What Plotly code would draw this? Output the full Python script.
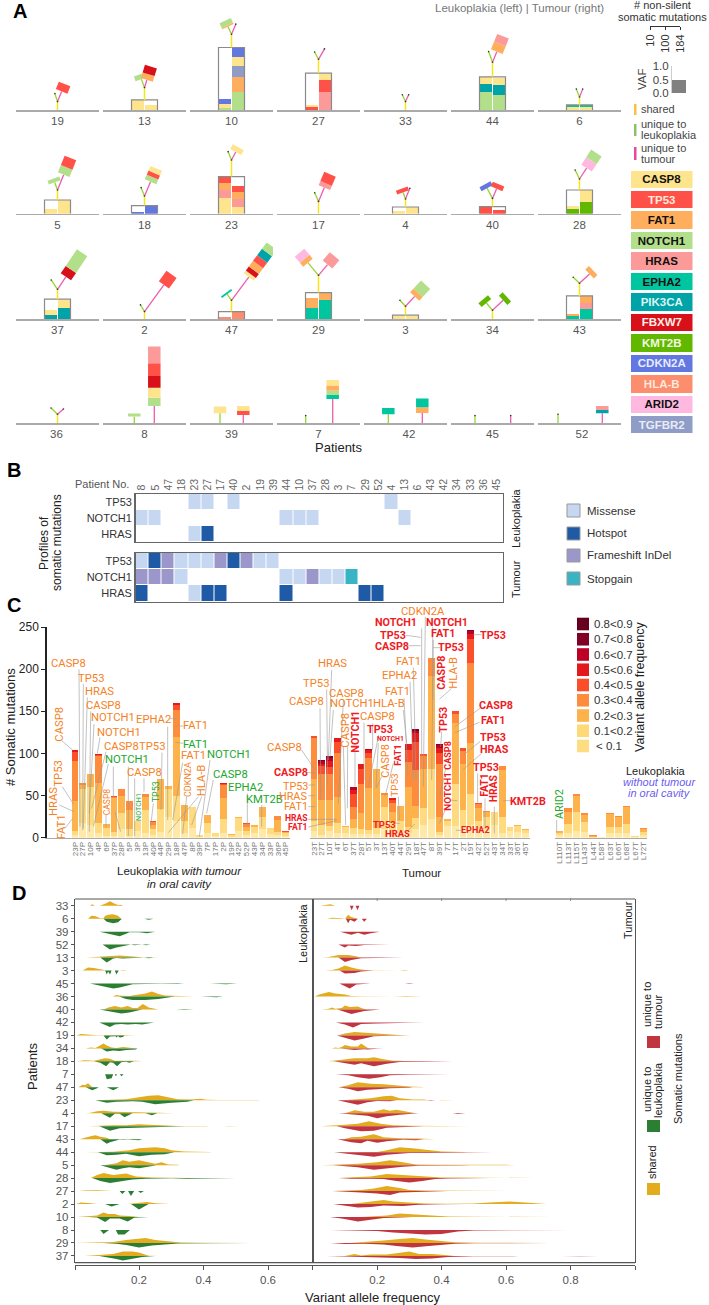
import math
import plotly.graph_objects as go

W, H = 709, 1305
FONT = "Liberation Sans"
NARROW = "Roboto"

GENES = ["CASP8", "TP53", "FAT1", "NOTCH1", "HRAS", "EPHA2", "PIK3CA", "FBXW7", "KMT2B", "CDKN2A", "HLA-B", "ARID2", "TGFBR2"]
GENE_COLORS = ["#FEE48C", "#FF5147", "#FEAE5C", "#B2DF8A", "#FB9A99", "#00C6A0", "#00A3A8", "#D7101A", "#62B800", "#6277E0", "#FC8D6D", "#FFB9E0", "#8F9CC6"]
GENE_TEXT = ["#111", "#FFE8DC", "#111", "#111", "#111", "#111", "#DDF5F5", "#FFF0E8", "#F2FAE0", "#E8ECFF", "#FFE8DC", "#111", "#E8ECF8"]
GC = dict(zip(GENES, GENE_COLORS))

# panel A: patient grid
GRID = [[19, 13, 10, 27, 33, 44, 6], [5, 18, 23, 17, 4, 40, 28], [37, 2, 47, 29, 3, 34, 43], [36, 8, 39, 7, 42, 45, 52]]
# box_L / box_R: segment heights; trunk; l / r: branch (length, angle); ls / rs: driver blocks on the branches; lx / rx: stem offsets
TREES = {
 19: dict(trunk=8.7, l=(8.4, -18), r=(11, 22), rs=[("TP53", 8)]),
 13: dict(box_L=[("CASP8", 10)], box_R=[("CASP8", 5)], trunk=22.7, l=(9, -20), r=(8, 17), ls=[("NOTCH1", 5)], rs=[("FAT1", 6), ("FBXW7", 8)]),
 10: dict(box_L=[("NOTCH1", 2.7), ("CASP8", 4), ("CDKN2A", 5)], box_R=[("NOTCH1", 18.7), ("FAT1", 15), ("TGFBR2", 10.7), ("CASP8", 8.7), ("CDKN2A", 9.3)], trunk=76, l=(8.5, -25), r=(11, 23), ls=[("FAT1", 1.5), ("NOTCH1", 5)]),
 27: dict(box_L=[("TP53", 3.3), ("CASP8", 1.7)], box_R=[("HRAS", 18.3), ("TP53", 12), ("CASP8", 6.5)], trunk=51, l=(8.3, -28), r=(12, 30)),
 33: dict(trunk=8.7, l=(7.5, -25), r=(7.5, 25)),
 44: dict(box_L=[("NOTCH1", 18.7), ("PIK3CA", 7.7), ("CASP8", 6.7)], box_R=[("NOTCH1", 15.3), ("PIK3CA", 9.7), ("CASP8", 7.7)], trunk=48, l=(11.4, -20), r=(11.5, 22), rs=[("FAT1", 8.3), ("HRAS", 8.3)]),
 6: dict(box_L=[("CASP8", 3), ("EPHA2", 2)], box_R=[("CASP8", 3), ("EPHA2", 2)], trunk=13.3, l=(8.5, -22), r=(8.5, 22)),
 5: dict(box_L=[("CASP8", 4.7)], box_R=[("CASP8", 13.3)], trunk=23.7, l=(8, -20), r=(16.5, 22), ls=[("NOTCH1", 4)], rs=[("NOTCH1", 8), ("TP53", 10)]),
 18: dict(box_L=[("CDKN2A", 1.7)], box_R=[("CDKN2A", 7.7)], trunk=17.7, l=(9, -22), r=(15.5, 23), rs=[("NOTCH1", 5), ("TP53", 4.5), ("CASP8", 5)]),
 23: dict(box_L=[("CASP8", 15.7), ("HRAS", 8), ("FAT1", 7), ("TP53", 6)], box_R=[("CASP8", 6.7), ("HRAS", 7.7), ("FAT1", 7), ("TP53", 6.7)], trunk=53.7, l=(9, -22), r=(9, 28), rs=[("CASP8", 5.5)]),
 17: dict(trunk=12.3, l=(9.4, -24), r=(15, 23), rs=[("HRAS", 4.5), ("TP53", 10)]),
 4: dict(box_L=[("CASP8", 3)], box_R=[("CASP8", 6.3)], trunk=14.7, l=(7, -20), r=(11.5, 22), ls=[("TP53", 4)]),
 40: dict(box_L=[("TP53", 6.7)], box_R=[("TP53", 3.7)], trunk=15.3, l=(11.5, -28), r=(10.5, 23), ls=[("CDKN2A", 4.5)], rs=[("TP53", 5)]),
 28: dict(box_L=[("KMT2B", 4.7), ("CASP8", 2.7)], box_R=[("KMT2B", 12), ("CASP8", 11.3)], trunk=34.7, l=(10, -26), r=(13, 33), rs=[("ARID2", 9), ("NOTCH1", 9)]),
 37: dict(box_L=[("PIK3CA", 4.3), ("CASP8", 5)], box_R=[("PIK3CA", 11.7), ("CASP8", 8)], trunk=30, l=(11.3, -34), r=(15, 34), rs=[("FBXW7", 9), ("NOTCH1", 20)]),
 2: dict(trunk=7.7, l=(7.8, -31), r=(33, 36), rs=[("TP53", 13)]),
 47: dict(box_L=[("HLA-B", 2)], box_R=[("HLA-B", 7.3)], trunk=19, l=(7.5, -36), r=(29, 36.6), ls=[("EPHA2", 1.8)], rs=[("CASP8", 3.5), ("FBXW7", 5), ("FAT1", 7), ("TP53", 7), ("PIK3CA", 8), ("NOTCH1", 8)]),
 29: dict(box_L=[("EPHA2", 11.7), ("FAT1", 9.7)], box_R=[("EPHA2", 19.3), ("FAT1", 7)], trunk=44, l=(16.5, -40), r=(14, 40), ls=[("FAT1", 5), ("ARID2", 8)], rs=[("HRAS", 11)]),
 3: dict(box_L=[("CASP8", 3.7)], box_R=[("CASP8", 3)], trunk=13, l=(8.2, -43), r=(13.5, 43), rs=[("FAT1", 5), ("NOTCH1", 11)]),
 34: dict(trunk=9, l=(9.5, -40), r=(14.6, 47), ls=[("KMT2B", 5)], rs=[("KMT2B", 5)]),
 43: dict(box_L=[("EPHA2", 3.3), ("FAT1", 2.3)], box_R=[("EPHA2", 10.7), ("HRAS", 6), ("FAT1", 6.3)], trunk=36, l=(8.7, -46), r=(13.7, 47), rs=[("FAT1", 5)]),
 36: dict(trunk=9, l=(9, -46), r=(8, 48)),
 8: dict(trunk=0, lx=-10.2, rx=9.8, l=(6.7, 0), r=(17.3, 0), ls=[("NOTCH1", 3)], rs=[("NOTCH1", 8.3), ("CASP8", 10), ("FBXW7", 11.7), ("TP53", 12.7), ("HRAS", 16.7)]),
 39: dict(trunk=0, lx=-11.5, rx=11.8, l=(10, 0), r=(8.3, 0), ls=[("CASP8", 6.7)], rs=[("TP53", 4.3), ("CASP8", 4.7)]),
 7: dict(trunk=0, lx=-12.8, rx=14.2, l=(7.7, 0), r=(24.3, 0), rs=[("EPHA2", 4), ("NOTCH1", 4.3), ("FAT1", 5.3), ("CASP8", 5.3)]),
 42: dict(trunk=0, lx=-17.2, rx=16.8, l=(9, 0), r=(10.3, 0), ls=[("EPHA2", 6.3)], rs=[("FAT1", 5.7), ("EPHA2", 8.7)]),
 45: dict(trunk=0, lx=-17.5, rx=18.2, l=(7.7, 0), r=(7.7, 0)),
 52: dict(trunk=0, lx=-21.5, rx=22.8, l=(9, 0), r=(10, 0), rs=[("PIK3CA", 3.3), ("HRAS", 4)]),
}
LABEL_SHIFT = {42: 3.5, 52: 2.5, 36: -1}

# panel B
B_PATIENTS = [8, 5, 47, 18, 23, 27, 17, 40, 2, 19, 39, 44, 10, 37, 28, 3, 7, 29, 52, 4, 13, 6, 43, 42, 34, 33, 36, 45]
B_GENES = ["TP53", "NOTCH1", "HRAS"]
CLASSES = ["Missense", "Hotspot", "Frameshift InDel", "Stopgain"]
CLASS_COLORS = ["#C6D7F2", "#1F5AA6", "#9C97CB", "#38B4C4"]
LEUK_TP53 = {23: 1, 27: 1, 40: 1, 4: 1}
LEUK_NOTCH1 = {8: 1, 5: 1, 44: 1, 10: 1, 37: 1, 13: 1}
LEUK_HRAS = {23: 1, 27: 2}
TUM_TP53 = {8: 1, 5: 2, 47: 3, 18: 1, 23: 1, 27: 1, 17: 3, 40: 2, 2: 3, 19: 1, 39: 1}
TUM_NOTCH1 = {8: 3, 5: 3, 47: 3, 18: 1, 44: 1, 10: 1, 37: 3, 28: 1, 3: 1, 7: 4}
TUM_HRAS = {8: 2, 23: 1, 27: 2, 17: 2, 44: 2, 29: 2, 52: 2}

# panel C
C_ORDER = [23, 27, 10, 4, 6, 37, 28, 5, 3, 13, 40, 44, 29, 18, 47, 8, 39, 7, 17, 2, 19, 42, 52, 43, 34, 33, 36, 45]
L_ONLY = ["L110T", "L113T", "L115T", "L143T", "L44T", "L58T", "L63T", "L66T", "L68T", "L67T", "L72T"]
VAF_BINS = ["< 0.1", "0.1<0.2", "0.2<0.3", "0.3<0.4", "0.4<0.5", "0.5<0.6", "0.6<0.7", "0.7<0.8", "0.8<0.9"]
VAF_COLORS = ["#FFE9A8", "#FEDB80", "#FEB24C", "#FD8D3C", "#FC4E2A", "#E31A1C", "#BD0026", "#800026", "#67001F"]
VAF_LEGEND = ["#FEDD80", "#FED976", "#FEB24C", "#FD8D3C", "#FC4E2A", "#E31A1C", "#BD0026", "#800026", "#67001F"]
LEUK_BARS = [[3,5,35,48,11,2],[18,40,5,2],[15,45,15],[5,12,48,32,1,1],[2,10,4],[2,5,40,1,1],[10,19,21,8],[2,8,23,11],[8,12],[5,28,15,4],
 [3,7,5,4,1],[7,27,36],[25,33,3],[20,29,71,31,6,3],[5,15,19],[12,24],[1,2],[6,12,9],[2,4],[6,16,25,15,2,1],
 [1,2,1],[8,15,2],[3,5,5,3,1],[5,8,2],[10,15,11],[4,8],[3,4,14,5],[2,4,1,0,1]]
TUM_BARS = [[8,12,50,48,3],[3,12,30,30,10,3,3,1],[8,6,31,31,8,7,4,2],[6,12,30,52,14,4],[6,7,1],[4,8,10,15,15,5,3],[4,6,19,35,18,5,1],[4,5,50,35,7,3,1],[4,8,69],[10,27,14,2],
 [4,13,13,11,4,2],[8,12,18],[5,8,47,30,14,7],[10,13,15,42,34,10,3,2],[15,20,47,15,2],[22,60,110,21],[3,4,18,63,12,7,3,1],[14,6,2],[14,50,72,11,3],[11,22,55,15,3],
 [15,37,60,95,29,6,3,1],[10,10,15,5,1],[10,14,6,2],[15,15,1],[5,20,55,5],[8,5],[7,7,1],[6,3,1]]
LONLY_BARS = [[3,3,2],[6,10,14,5],[8,22,20,2],[7,12,8,2],[0,1,1,1],[0.5],[5,8,15,1],[5,8,12,1],[5,11,20,2],[1,1],[3,4,3,2]]

ORANGE, GREEN, RED = "#F5821F", "#22A82C", "#EE1C25"
# gene call-outs on the left block: text, x, y (crop units), colour, angle, size
C_LABELS_L = [
 ("CASP8",205,160,ORANGE,0,12.5),("TP53",272,204,ORANGE,0,12.5),("HRAS",297,243,ORANGE,0,12.5),("CASP8",311,286,ORANGE,0,12.5),
 ("NOTCH1",338,323,ORANGE,0,12.5),("NOTCH1",358,366,ORANGE,0,12.5),("CASP8",364,409,ORANGE,0,12.5),("NOTCH1",382,449,GREEN,0,12.5),
 ("TP53",455,410,ORANGE,0,12.5),("CASP8",434,488,ORANGE,0,12.5),("CASP8",320,575,ORANGE,-90,9.5),("NOTCH1",416,592,GREEN,-90,8),
 ("TP53",467,545,GREEN,-90,10),("EPHA2",459,327,ORANGE,0,12.5),("FAT1",586,346,ORANGE,0,12.5),("FAT1",587,403,GREEN,0,12.5),
 ("FAT1",581,436,ORANGE,0,12.5),("CDKN2A",566,508,ORANGE,-90,10),("HLA-B",604,510,ORANGE,-90,12.5),("NOTCH1",686,433,GREEN,0,12.5),
 ("CASP8",690,492,GREEN,0,12.5),("EPHA2",735,532,GREEN,0,12.5),("KMT2B",793,568,GREEN,0,12.5),("CASP8",176,342,ORANGE,-90,12.5),
 ("TP53",175,490,ORANGE,-90,12.5),("HRAS",160,575,ORANGE,-90,12.5),("FAT1",185,650,ORANGE,-90,12.5),("CASP8",852,412,ORANGE,0,12.5),
 ("CASP8",873,488,RED,0,12.5),("TP53",887,528,ORANGE,0,12),("HRAS",880,558,ORANGE,0,12),("FAT1",888,590,ORANGE,0,12),
 ("HRAS",888,624,RED,0,10),("FAT1",893,651,RED,0,10),
]
C_LEADERS_L = [
 (237,178,240,650),(250,222,248,660),(262,262,250,655),(272,304,268,665),(282,342,268,610),(300,382,292,430),(318,425,275,595),(325,462,280,650),
 (486,428,483,600),(404,505,404,678),(385,470,385,678),(340,470,340,560),(318,615,318,650),(345,605,362,665),(460,580,452,650),(432,505,432,545),
 (508,326,530,326),(503,350,503,630),(527,348,550,348),(527,397,550,400),(548,458,518,630),(560,560,548,672),(595,560,505,668),(605,560,575,645),
 (630,450,598,680),(640,510,620,610),(742,550,742,645),(785,585,785,650),(185,392,218,420),(187,530,222,585),(178,585,222,605),(195,655,218,625),
 (905,420,945,480),(920,488,945,488),(925,525,945,525),(925,557,945,557),(925,590,945,590),(925,628,1010,628),(925,651,1010,632),
]
# gene call-outs on the tumour block (crop units of the second crop)
C_LABELS_T = [
 ("CASP8",20,275,ORANGE,0,12.5),("TP53",48,219,ORANGE,0,12.5),("HRAS",98,161,ORANGE,0,12.5),("CASP8",140,250,ORANGE,0,12.5),("NOTCH1",157,281,ORANGE,0,12.5),
 ("CASP8",138,362,ORANGE,-90,12.5),("NOTCH1",168,365,RED,-90,12.5),("CASP8",234,320,ORANGE,0,12.5),("TP53",241,359,RED,0,12.5),("NOTCH1",270,387,RED,0,8),
 ("CASP8",258,455,ORANGE,-90,12),("FAT1",290,435,RED,-90,11),("TP53",285,527,ORANGE,-90,11),("TP53",252,644,RED,0,11),("HRAS",293,669,RED,0,11),
 ("FAT1",325,155,ORANGE,0,12.5),("EPHA2",297,197,ORANGE,0,12.5),("FAT1",292,245,ORANGE,0,12.5),("HLA-B",267,282,ORANGE,0,12.5),("NOTCH1",288,38,RED,0,12.5),
 ("TP53",278,76,RED,0,12.5),("CASP8",275,110,RED,0,12.5),("CDKN2A",368,5,ORANGE,0,12.5),("NOTCH1",440,36,RED,0,12.5),("FAT1",428,70,RED,0,12.5),
 ("TP53",453,113,RED,0,12.5),("CASP8",424,187,RED,-90,12.5),("HLA-B",460,187,ORANGE,-90,12.5),("TP53",428,330,RED,-90,12.5),("CASP8",443,435,RED,-90,10.5),
 ("NOTCH1",444,545,RED,-90,11.5),("EPHA2",526,661,RED,0,10.5),("CASP8",588,288,RED,0,12.5),("FAT1",578,330,RED,0,12.5),("TP53",578,381,RED,0,12.5),
 ("HRAS",584,418,RED,0,12.5),("TP53",559,471,RED,0,12.5),("FAT1",555,527,RED,-90,12),("HRAS",583,537,RED,-90,12),("KMT2B",685,574,RED,0,12.5),
 ("TP53",580,75,RED,0,12.5),("ARID2",777,582,GREEN,-90,12),
]
C_LEADERS_T = [
 (60,295,62,570),(80,238,83,525),(95,180,85,450),(130,270,115,580),(100,300,90,440),(130,410,137,645),(165,425,165,530),(143,410,142,595),
 (192,338,192,510),(218,340,218,420),(236,375,205,530),(235,400,228,532),(245,500,228,535),(280,460,255,560),(295,560,298,630),(280,640,300,640),
 (325,660,345,642),(340,172,348,510),(330,215,340,510),(312,265,324,500),(310,300,320,400),(365,55,365,440),(318,76,362,82),(325,107,362,107),
 (376,20,370,530),(398,50,398,270),(400,90,395,510),(400,113,420,113),(455,235,418,268),(425,365,422,410),(437,475,420,560),(438,595,418,640),
 (450,570,472,572),(468,661,485,661),(540,295,465,350),(538,337,465,368),(540,395,490,435),(545,430,488,480),(533,490,533,578),(555,565,555,650),
 (583,590,583,670),(610,572,635,572),(520,74,545,74),(770,630,770,665),
]

# panel D: (vaf, height) pairs read row by row
D_ROWS = [33, 6, 39, 52, 13, 3, 45, 36, 40, 42, 19, 34, 18, 7, 47, 23, 4, 17, 43, 44, 5, 28, 27, 2, 10, 8, 29, 37]
SHARED_LEFT = {
 33:[.048,0,.055,1.5,.063,0,.078,0,.095,2,.11,4.5,.125,2,.135,.8,.143,1,.152,0],
 6:[.042,0,.052,3,.065,2.5,.08,.5,.09,.5,.095,3,.105,4,.118,4.5,.125,4,.135,3,.145,0],
 13:[.035,0,.06,.5,.09,.5,.12,1,.14,2,.16,1.5,.185,1,.2,0,.22,0,.24,.3,.26,0],
 3:[.025,0,.042,3,.06,2.5,.08,1.5,.09,.5,.1,0,.14,0,.15,.5,.165,0],
 36:[.118,0,.13,1.5,.145,.7,.17,.5,.2,2,.22,3,.24,5,.26,2.5,.28,1,.31,.7,.33,.5,.36,.4,.37,0],
 40:[.09,0,.105,2,.125,3.5,.145,2,.165,3.5,.18,1.5,.195,1.5,.212,5.5,.23,2,.25,.5,.26,0],
 19:[.005,0,.02,1.5,.04,1,.07,.3,.12,.3,.15,.5,.19,0,.25,0,.26,.5,.285,0],
 34:[.035,0,.05,1,.065,.5,.08,3,.09,5,.1,3,.115,1,.13,.5,.15,1.5,.165,1,.19,0],
 18:[.01,0,.03,1,.06,.7,.08,2,.095,3,.11,2.5,.125,.7,.16,.5,.19,.7,.21,0],
 47:[.012,0,.025,2.5,.032,2,.042,4,.05,1.5,.056,0],
 23:[.065,0,.12,.3,.16,1,.2,3,.23,4.5,.26,5,.29,3,.32,1,.36,.8,.39,1.5,.41,.5,.45,.2,.57,.2,.575,0],
 4:[.035,0,.05,.5,.07,2,.09,2.5,.12,1.5,.16,1,.2,.7,.26,.5,.31,0],
 17:[.043,0,.08,.6,.12,1,.16,1,.2,2,.23,1.5,.28,.7,.32,.3,.41,.2,.415,0,.46,0,.48,.3,.513,0],
 43:[.015,0,.03,1.5,.05,3,.065,4,.08,2.5,.1,1.5,.11,0,.175,0,.18,.5,.19,0],
 44:[.03,0,.07,.3,.12,.5,.17,2,.2,4,.25,5,.28,4,.3,2,.34,.6,.42,.3,.425,0,.49,0,.51,.3,.54,0,.595,0,.62,.3,.65,0],
 5:[.09,0,.11,1,.13,2,.15,5,.17,3.5,.2,5,.23,3,.25,1.5,.27,3,.29,.6,.32,.5,.325,0],
 28:[.05,0,.07,3,.09,5,.12,3,.16,4.5,.19,1.5,.24,.5,.28,.4,.36,.5,.37,0],
 27:[.015,0,.03,.7,.07,.8,.115,0],
 2:[.005,0,.02,1.5,.05,.8,.07,0,.165,0,.2,1,.225,2,.25,.8,.29,.5,.295,0],
 10:[.008,0,.04,1,.07,1.5,.09,4.5,.105,3,.125,3,.14,1.5,.17,1,.2,0],
 29:[.005,0,.05,.3,.08,.3,.12,1,.16,3,.2,4.5,.22,5,.25,3,.3,1.5,.33,.5,.4,.2,.57,.2,.575,0],
 37:[.032,0,.07,.7,.1,1,.12,2,.15,4.5,.18,4.5,.2,3.5,.22,1,.23,.2,.26,0,.265,0,.28,.4,.305,0],
}
UNIQUE_LEUK = {
 6:[.09,0,.1,3,.12,4.5,.135,3.5,.147,0,.216,0,.23,1,.245,0],
 39:[.078,0,.1,1.5,.12,2.5,.14,4.5,.16,2,.17,.7,.2,.7,.225,1.5,.25,0],
 52:[.087,0,.11,5,.13,3,.16,.5,.17,0,.175,0,.185,.6,.2,0,.21,0,.222,.7,.235,0],
 13:[.08,0,.1,5,.12,1,.13,.5,.15,1,.17,.5,.2,0,.215,0,.23,.6,.245,0],
 3:[.095,0,.1,4,.104,1,.11,4,.115,0,.125,0,.13,4,.137,0],
 45:[.048,0,.08,2.5,.1,4,.12,5,.14,4,.16,2,.18,.7,.22,.4,.24,.2,.27,.2,.32,.5,.34,0,.42,0,.47,.6,.505,0],
 36:[.138,0,.16,2.5,.18,3.5,.22,3.5,.26,2.5,.3,.8,.31,0,.39,0,.41,.3,.44,.7,.46,0],
 40:[.077,0,.1,1.5,.12,2.5,.145,4,.17,3,.2,.6,.21,0,.315,0,.34,.4,.37,0],
 42:[.077,0,.1,3.5,.11,4.5,.125,2,.145,1.5,.165,2,.19,1.5,.21,2,.235,1,.247,0],
 19:[.09,0,.1,4,.11,1,.128,.8,.13,2,.135,.5,.14,2,.15,1.5,.155,0],
 34:[.083,0,.1,3,.12,2,.14,2.5,.16,1.5,.19,1,.195,0,.21,0,.22,.6,.25,0],
 18:[.06,0,.08,1.5,.098,5,.11,1,.12,1.5,.132,5,.145,1,.16,.5,.17,1.5,.185,0],
 7:[.095,0,.1,5,.115,4,.12,0,.125,0,.128,2,.132,0,.14,0,.146,2,.152,0],
 47:[.035,0,.055,3,.07,1,.075,0,.1,0,.12,3,.138,0],
 23:[.065,0,.08,1,.1,2.5,.13,1.5,.18,1,.21,1.5,.25,4,.3,2.5,.35,1.5,.37,0],
 4:[.083,0,.11,4.5,.125,.5,.14,.5,.155,4,.18,0,.22,0,.24,2,.257,0],
 17:[.077,0,.11,4.5,.14,2,.2,1.5,.26,1.2,.3,.7,.345,0],
 43:[.08,0,.1,4.5,.11,3,.13,1.5,.14,.3,.15,.5,.165,.2,.2,1,.21,0],
 44:[.073,0,.1,3,.13,2.5,.16,1.5,.2,4,.24,2.5,.28,2,.31,0],
 5:[.08,0,.1,1.5,.13,4.5,.15,3,.17,2,.2,3,.22,2,.25,.5,.255,0],
 28:[.055,0,.08,3,.11,5,.14,3.5,.18,1.5,.22,.7,.3,.2,.35,.7,.4,.7,.45,.7,.5,0],
 27:[.14,0,.148,3,.158,0,.166,0,.175,5,.185,0,.197,0,.205,2,.215,0],
 2:[.095,0,.115,2.5,.14,0,.175,0,.2,5.5,.23,0],
 10:[.045,0,.07,.5,.095,5,.11,1.5,.14,1.5,.165,4.5,.185,.7,.2,.6,.23,0],
 8:[.08,0,.09,4,.107,0,.128,0,.135,4.5,.155,4.5,.172,0],
 29:[.09,0,.13,.7,.16,2,.2,4.5,.24,2.5,.27,1.5,.32,.5,.42,.2,.5,.2,.55,0],
 37:[.077,0,.1,1,.13,3,.15,4.5,.18,3,.21,1,.25,0,.485,0,.5,.6,.515,0],
}
SHARED_RIGHT = {
 33:[.023,0,.04,.7,.055,1.5,.07,0,.083,0,.09,.4,.103,0],
 6:[.045,0,.06,1,.09,.5,.095,0,.1,0,.11,4,.118,2,.13,.7,.14,0],
 13:[.03,0,.05,.7,.08,2.5,.11,2.5,.13,1.5,.15,0],
 3:[.038,0,.06,.5,.08,2,.1,5,.12,3,.14,1.5,.17,.4,.21,0,.27,0,.285,.5,.3,0],
 36:[.006,0,.02,2,.05,4.5,.07,3,.1,2,.12,.5,.15,.3,.19,0,.25,0,.29,.4,.34,0],
 40:[.028,0,.05,.7,.06,2,.07,.8,.09,1.5,.1,4,.115,2.5,.14,3,.155,1,.17,0],
 19:[.077,0,.1,2,.13,3.5,.17,2.5,.22,1.5,.24,.5,.28,.2,.3,0,.345,0,.36,.5,.385,0],
 34:[.06,0,.07,1,.08,.3,.09,1.5,.1,3.5,.12,2,.14,2,.15,5,.17,.7,.175,0],
 18:[.048,0,.07,1,.1,2,.13,3,.17,3,.19,4,.22,2,.25,.5,.27,.7,.29,0],
 47:[.08,0,.11,2,.14,5,.18,3.5,.22,3,.26,1.5,.3,.7,.34,.2,.345,0],
 23:[.095,0,.14,.7,.18,2,.22,4,.245,4.5,.27,2,.31,.7,.345,.7,.36,0,.39,0,.4,.3,.44,0],
 4:[.1,0,.13,3,.16,1.5,.19,1.5,.22,4,.24,2.5,.26,3.5,.29,1.5,.32,0],
 17:[.023,0,.06,.5,.1,1.5,.14,2.5,.175,5,.21,2.5,.25,1,.3,.5,.37,.5,.41,.2,.42,0,.445,0,.46,.3,.495,0],
 43:[.095,0,.12,2,.15,2.5,.19,5,.22,2,.27,1,.33,.7,.38,0],
 44:[.1,0,.2,.3,.23,2,.27,5,.31,4,.36,2,.4,.7,.47,.2,.475,0],
 5:[.028,0,.06,.3,.1,.5,.14,1.5,.2,3,.24,5,.28,3,.32,.7,.38,.4,.43,.2,.48,.2,.5,0,.545,0,.57,.3,.6,.3,.63,0],
 28:[.08,0,.1,.5,.14,1,.18,1.5,.23,4,.28,3,.35,1.5,.4,.5,.45,.7,.52,.7,.56,0,.6,0,.64,.5,.69,0],
 27:[.06,0,.1,.3,.15,1,.19,2.5,.23,5,.27,3,.3,1,.35,.5,.4,.5,.46,.2,.6,.3,.7,.2,.71,0],
 2:[.12,0,.15,1,.19,2.5,.22,4,.25,2.5,.3,1.5,.35,.5,.42,.2,.5,.5,.55,1.5,.61,2.5,.66,1.5,.72,.3,.725,0],
 10:[.15,0,.19,.7,.23,1.5,.27,3.5,.31,2.5,.36,1.5,.42,.5,.5,.3,.6,.3,.7,.3,.745,0],
 29:[.115,0,.17,1,.22,2.5,.27,4,.31,5,.35,3.5,.39,2,.44,.7,.52,.2,.58,.2,.62,.5,.7,.2,.74,0],
 37:[.1,0,.13,2,.15,.5,.18,1.5,.23,1.5,.3,4.5,.33,2,.37,2,.41,1,.44,0],
}
UNIQUE_TUM = {
 33:[.115,0,.121,4.5,.127,0,.133,0,.139,4.5,.145,0],
 6:[.103,0,.11,4.5,.116,1,.13,3,.14,0,.152,0,.16,3,.168,0],
 39:[.085,0,.1,1,.12,3,.14,1,.16,3,.18,1.5,.208,0],
 52:[.08,0,.1,3,.11,1,.135,1.5,.16,.5,.2,.3,.24,0],
 13:[.08,0,.1,4.5,.12,2.5,.15,.7,.2,.4,.25,.3,.28,0],
 3:[.083,0,.1,3,.13,2.5,.15,1,.19,0],
 45:[.083,0,.115,5,.135,1,.155,.4,.18,0,.285,0,.3,.5,.315,0],
 40:[.077,0,.1,2,.12,4.5,.14,3,.16,1.5,.21,0,.235,0,.25,.6,.26,0,.32,0,.335,.5,.345,0],
 42:[.072,0,.1,2,.125,5,.15,1.5,.2,1,.25,.4,.3,.3,.35,0],
 19:[.075,0,.11,3,.13,5,.16,3,.19,.7,.24,.4,.3,.3,.31,0],
 34:[.087,0,.11,1,.13,1.5,.16,.8,.17,1,.2,.3,.22,0],
 18:[.065,0,.1,2,.13,3.5,.15,2,.19,5,.23,2.5,.27,.7,.35,.5,.43,.3,.435,0],
 7:[.072,0,.11,1,.14,3,.175,4.5,.21,3,.24,1,.3,.3,.42,.3,.425,0],
 47:[.08,0,.11,1.5,.14,4,.17,2.5,.2,2,.24,1,.3,.5,.31,0],
 23:[.077,0,.11,2,.14,4.5,.17,2,.2,.7,.24,1,.26,0,.355,0,.365,.5,.38,0],
 4:[.08,0,.13,1,.17,2.5,.2,5,.23,3,.27,1.5,.33,0,.435,0,.45,.7,.475,0],
 17:[.075,0,.1,2,.15,5,.19,4.5,.23,1.5,.3,.4,.345,0],
 43:[.077,0,.12,3,.15,4,.17,1.5,.2,3.5,.23,2,.28,.5,.32,1,.345,0,.47,0,.5,.5,.53,0],
 44:[.066,0,.11,1.5,.15,3,.19,4.5,.23,2.5,.3,.8,.36,.7,.42,.7,.46,0,.5,0,.53,.7,.56,0],
 5:[.064,0,.1,.6,.14,2,.19,4.5,.23,3,.28,1.5,.33,.5,.4,.7,.46,.3,.49,0,.59,0,.62,.3,.645,0],
 28:[.08,0,.12,.7,.18,.7,.22,1,.26,3,.3,4.5,.34,3,.38,1,.42,.4,.5,.2,.55,0],
 27:[.06,0,.1,1,.15,1.5,.2,2.5,.24,4,.27,1.5,.31,1,.35,.5,.42,0],
 2:[.064,0,.1,1.5,.14,3.5,.18,3,.22,1.5,.28,2,.33,.7,.4,.2,.48,0],
 10:[.054,0,.09,1.5,.14,4.5,.18,3,.22,1,.27,.5,.31,0],
 8:[.054,0,.1,.3,.2,1,.25,2.5,.3,3.5,.35,4.5,.4,4,.45,1.5,.5,.4,.6,.2,.645,0,.71,0,.75,.3,.8,0],
 29:[.054,0,.1,1,.16,.7,.22,1.5,.26,3,.31,4.5,.36,3,.4,1.5,.44,.7,.5,.3,.6,.2,.7,.5,.74,0],
 37:[.043,0,.1,.5,.16,.7,.22,1,.27,2,.32,3,.37,2.5,.42,1,.5,.3,.62,.2,.64,0,.77,0,.83,.4,.885,0],
}

# ---------------- helpers
fig = go.Figure()
layout = {}
annots = []
shapes = []
nax = [0]

def new_axes(x0, x1, ytop, ybot, xo=None, yo=None):
    nax[0] += 1
    n = nax[0]
    base = dict(showgrid=False, zeroline=False, showticklabels=False, ticks="", showline=False, fixedrange=True)
    xa = dict(base); xa.update(domain=[x0 / W, x1 / W], anchor=f"y{n}")
    ya = dict(base); ya.update(domain=[1 - ybot / H, 1 - ytop / H], anchor=f"x{n}")
    xa.update(xo or {}); ya.update(yo or {})
    layout[f"xaxis{n}"] = xa
    layout[f"yaxis{n}"] = ya
    return f"x{n}", f"y{n}"

def txt(x, y, s, size=11, color="#222", angle=0, anchor="center", family=FONT, valign="middle"):
    annots.append(dict(xref="paper", yref="paper", x=x / W, y=1 - y / H, text=s, showarrow=False, xanchor=anchor, yanchor=valign,
                       textangle=angle, font=dict(size=size, color=color, family=family), align="center"))

def rect(x0, y0, x1, y1, color, line=None):
    shapes.append(dict(type="rect", xref="paper", yref="paper", x0=x0 / W, x1=x1 / W, y0=1 - y0 / H, y1=1 - y1 / H,
                       fillcolor=color, line=dict(width=1 if line else 0, color=line or color)))

def seg(x0, y0, x1, y1, color="#999", width=0.6):
    shapes.append(dict(type="line", xref="paper", yref="paper", x0=x0 / W, x1=x1 / W, y0=1 - y0 / H, y1=1 - y1 / H,
                       line=dict(color=color, width=width)))

def add(tr):
    fig.add_trace(tr)

def callout(s, x, y, col, ang, size):
    label = f"<b>{s}</b>" if col == RED else s
    txt(x, y, label, size * (0.86 if col == RED else 0.9), col, ang, family=NARROW)

# ---------------- panel A
BASE_Y = [110.3, 213.7, 319.3, 423.3]
COL_X = [16, 103, 190, 277, 364, 451, 538]
CELL = 83
TRUNK, LEFT_C, RIGHT_C = "#F4E61C", "#93D62C", "#EC5CB0"
BLOCK_W = 12.5

def stack_poly(px, py, ang, h0, h1, w=BLOCK_W):
    a = math.radians(ang)
    ux, uy, vx, vy = math.sin(a), math.cos(a), math.cos(a), -math.sin(a)
    bx0, by0 = px + ux * h0, py + uy * h0
    bx1, by1 = px + ux * h1, py + uy * h1
    return ([bx0 - vx * w / 2, bx0 + vx * w / 2, bx1 + vx * w / 2, bx1 - vx * w / 2, bx0 - vx * w / 2],
            [by0 - vy * w / 2, by0 + vy * w / 2, by1 + vy * w / 2, by1 - vy * w / 2, by0 - vy * w / 2])

for r, row in enumerate(GRID):
    for c, pid in enumerate(row):
        T = TREES[pid]
        x0 = COL_X[c]
        shift = LABEL_SHIFT.get(pid, 0)
        xa, ya = new_axes(x0, x0 + CELL, BASE_Y[r] - 100, BASE_Y[r],
                          dict(range=[-CELL / 2, CELL / 2], showline=True, linecolor="#AAAAAA", linewidth=1.2,
                               tickmode="array", tickvals=[shift], ticktext=[str(pid)], showticklabels=True,
                               tickfont=dict(size=11.5, color="#555", family=FONT), ticklen=0),
                          dict(range=[0, 100]))
        blocks_L, blocks_R = T.get("box_L", []), T.get("box_R", [])
        top = 0
        if blocks_L or blocks_R:
            top = max(sum(h for _, h in blocks_L), sum(h for _, h in blocks_R)) + 0.4
            add(go.Bar(x=[0], y=[top], width=[26], marker=dict(color="white", line=dict(width=0)), xaxis=xa, yaxis=ya, hoverinfo="skip"))
            for side, blocks in ((-6.6, blocks_L), (6.6, blocks_R)):
                for g, h in blocks:
                    add(go.Bar(x=[side], y=[h], width=[12.4], marker=dict(color=GC[g], line=dict(width=0)), xaxis=xa, yaxis=ya, hoverinfo="skip"))
            add(go.Scatter(x=[-13, -13, 13, 13], y=[0, top, top, 0], mode="lines", line=dict(color="#8A8A8A", width=1.2), xaxis=xa, yaxis=ya, hoverinfo="skip"))
        trunk = T["trunk"]
        if trunk > top:
            add(go.Scatter(x=[0, 0], y=[top, trunk], mode="lines", line=dict(color=TRUNK, width=1.5), xaxis=xa, yaxis=ya, hoverinfo="skip"))
        dots_x, dots_y = ([0], [trunk]) if trunk else ([], [])
        for br, col, blocks, off in ((T["l"], LEFT_C, T.get("ls", []), T.get("lx", 0)), (T["r"], RIGHT_C, T.get("rs", []), T.get("rx", 0))):
            ln, ang = br
            a = math.radians(ang)
            tx, ty = off + ln * math.sin(a), trunk + ln * math.cos(a)
            add(go.Scatter(x=[off, tx], y=[trunk, ty], mode="lines", line=dict(color=col, width=1.3), xaxis=xa, yaxis=ya, hoverinfo="skip"))
            if blocks:
                h0 = 0
                for g, h in blocks:
                    px_, py_ = stack_poly(tx, ty, ang, h0, h0 + h)
                    add(go.Scatter(x=px_, y=py_, mode="lines", fill="toself", fillcolor=GC[g], line=dict(width=0), xaxis=xa, yaxis=ya, hoverinfo="skip"))
                    h0 += h
            else:
                dots_x.append(tx); dots_y.append(ty)
        if dots_x:
            add(go.Scatter(x=dots_x, y=dots_y, mode="markers", marker=dict(size=1.6, color="#333"), xaxis=xa, yaxis=ya, hoverinfo="skip"))

# gene key
xa, ya = new_axes(631, 692.5, 169, 435, dict(range=[0, 1]), dict(range=[12.5, -0.5]))
add(go.Bar(x=[1] * len(GENES), y=list(range(len(GENES))), orientation="h", width=0.85, marker=dict(color=GENE_COLORS, line=dict(width=0)),
           text=[f"<b>{g}</b>" for g in GENES], textposition="inside", insidetextanchor="middle", textangle=0,
           textfont=dict(size=11.5, color=GENE_TEXT, family=FONT), xaxis=xa, yaxis=ya, hoverinfo="skip", constraintext="none"))

# mutation count scale
SCALE_TICKS = [10, 100, 184]
xa, ya = new_axes(650, 680, 16, 26, dict(range=[10, 184], showline=True, linecolor="#333", linewidth=1, tickmode="array", tickvals=SCALE_TICKS,
                  ticks="outside", ticklen=3, tickcolor="#333", showticklabels=True, tickangle=-90, tickfont=dict(size=11, color="#333", family=FONT)), dict(range=[0, 1]))
add(go.Scatter(x=SCALE_TICKS, y=[0, 0, 0], mode="lines", line=dict(color="rgba(0,0,0,0)"), xaxis=xa, yaxis=ya, hoverinfo="skip"))

# VAF scale
VAF_KEY = [0.5]
xa, ya = new_axes(672, 686, 65.7, 93.3, dict(range=[0, 1]), dict(range=[0, 1], showline=True, linecolor="#CCCCCC", linewidth=1, tickmode="array", tickvals=[0, 0.5, 1],
                  ticktext=["0.0", "0.5", "1.0"], showticklabels=True, tickfont=dict(size=11.5, color="#444", family=FONT)))
add(go.Bar(x=[0.5], y=VAF_KEY, width=[1], marker=dict(color="#808080", line=dict(width=0)), xaxis=xa, yaxis=ya, hoverinfo="skip"))
txt(642, 79, "VAF", 11.5, "#444", -90)

txt(519, 8, "Leukoplakia (left) | Tumour (right)", 11.5, "#777")
txt(662, 5.5, "# non-silent", 11, "#333")
txt(662, 17, "somatic mutations", 11, "#333")
rect(634, 104, 636.5, 115, "#F5C242"); txt(639, 109, "shared", 11, "#444", anchor="left")
rect(634, 124, 636.5, 136, "#8EC06C"); txt(639, 124, "unique to", 11, "#444", anchor="left"); txt(639, 135, "leukoplakia", 11, "#444", anchor="left")
rect(634, 147, 636.5, 160, "#E8479E"); txt(639, 148, "unique to", 11, "#444", anchor="left"); txt(639, 159, "tumour", 11, "#444", anchor="left")
txt(338, 448, "Patients", 13, "#222")
txt(20, 11, "<b>A</b>", 20, "#000")
txt(14, 470, "<b>B</b>", 20, "#000")
txt(14, 605, "<b>C</b>", 20, "#000")
txt(19, 893, "<b>D</b>", 20, "#000")

# ---------------- panel B
STEP = [[0, CLASS_COLORS[0]], [.166, CLASS_COLORS[0]], [.167, CLASS_COLORS[1]], [.5, CLASS_COLORS[1]], [.501, CLASS_COLORS[2]], [.833, CLASS_COLORS[2]], [.834, CLASS_COLORS[3]], [1, CLASS_COLORS[3]]]

def matrix(rows):
    return [[d.get(p) for p in B_PATIENTS] for d in rows]

xs = list(range(len(B_PATIENTS)))
for ytop, ybot, rows, top in ((494, 542, [LEUK_TP53, LEUK_NOTCH1, LEUK_HRAS], True), (553, 601.5, [TUM_TP53, TUM_NOTCH1, TUM_HRAS], False)):
    xo = dict(range=[-0.5, 27.5], showline=True, mirror=True, linecolor="#666", linewidth=1.4)
    if top:
        xo.update(side="top", showticklabels=True, tickmode="array", tickvals=xs, ticktext=[str(p) for p in B_PATIENTS], tickangle=-90,
                  tickfont=dict(size=10.5, color="#666", family=FONT), ticklen=0)
    yo = dict(range=[2.5, -0.5], showline=True, mirror=True, linecolor="#666", linewidth=1.4, showticklabels=True, tickmode="array", tickvals=[0, 1, 2],
              ticktext=B_GENES, tickfont=dict(size=11, color="#333", family=FONT), ticklen=0)
    xa, ya = new_axes(135.5, 503, ytop, ybot, xo, yo)
    add(go.Heatmap(z=matrix(rows), x=xs, y=[0, 1, 2], zmin=1, zmax=4, colorscale=STEP, showscale=False, xgap=1, ygap=1, xaxis=xa, yaxis=ya, hoverinfo="skip"))
txt(102, 484, "Patient No.", 11, "#555")
txt(44, 543, "Profiles of", 12, "#222", -90)
txt(57, 543, "somatic mutations", 12, "#222", -90)
txt(516, 518, "Leukoplakia", 11, "#222", -90)
txt(516, 579, "Tumour", 11, "#222", -90)
for i, (ya0, cl) in enumerate(zip((504, 527, 549, 572), CLASSES)):
    rect(567, ya0, 580, ya0 + 13, CLASS_COLORS[i], "#999")
    txt(585, ya0 + 6.5, cl, 11.5, "#333", anchor="left")

# ---------------- panel C
Y_TICKS = [0, 50, 100, 150, 200, 250]
def bars(block, xa, ya):
    for k in range(len(VAF_BINS)):
        add(go.Bar(x=list(range(len(block))), y=[row[k] if k < len(row) else 0 for row in block], width=0.88,
                   marker=dict(color=VAF_COLORS[k], line=dict(width=0)), xaxis=xa, yaxis=ya, hoverinfo="skip"))

tk = dict(showticklabels=True, tickmode="array", tickangle=-90, tickfont=dict(size=8, color="#777", family=FONT), ticklen=0, showline=True, linecolor="#AAAAAA", linewidth=1)
xa, ya = new_axes(46.7, 290, 627, 837.7, dict(range=[-3.63, 27.55], tickvals=list(range(28)), ticktext=[f"{p}P" for p in C_ORDER], **tk),
                  dict(range=[0, 250], showline=True, linecolor="#222", linewidth=1.4, ticks="outside", ticklen=4, tickcolor="#222", showticklabels=True,
                       tickmode="array", tickvals=Y_TICKS, tickfont=dict(size=12, color="#222", family=FONT)))
bars(LEUK_BARS, xa, ya)
xa, ya = new_axes(310, 530, 627, 837.7, dict(range=[-0.51, 27.55], tickvals=list(range(28)), ticktext=[f"{p}T" for p in C_ORDER], **tk), dict(range=[0, 250]))
bars(TUM_BARS, xa, ya)
xa, ya = new_axes(555, 647, 627, 837.7, dict(range=[-0.56, 10.43], tickvals=list(range(11)), ticktext=L_ONLY, **tk), dict(range=[0, 250]))
bars(LONLY_BARS, xa, ya)

for x0_, y0_, x1_, y1_ in C_LEADERS_L:
    seg(x0_ / 3, 610 + y0_ / 3, x1_ / 3, 610 + y1_ / 3)
for x0_, y0_, x1_, y1_ in C_LEADERS_T:
    seg(300 + x0_ / 3, 610 + y0_ / 3, 300 + x1_ / 3, 610 + y1_ / 3)
for s, x, y, col, ang, size in C_LABELS_L:
    callout(s, x / 3, 610 + y / 3, col, ang, size)
for s, x, y, col, ang, size in C_LABELS_T:
    callout(s, 300 + x / 3, 610 + y / 3, col, ang, size)

for i, (lab, col) in enumerate(zip(VAF_BINS[::-1], VAF_LEGEND[::-1])):
    yc = 624 + i * 15.25
    rect(577, yc - 6.3, 589, yc + 6.3, col)
    txt(592 if i < 8 else 594, yc, lab, 11.5, "#333", anchor="left")
txt(640, 687, "Variant allele frequency", 12.5, "#222", -90)
txt(656, 770.5, "Leukoplakia", 11, "#222")
txt(659, 782, "<i>without tumour</i>", 11, "#6A5CF0")
txt(659, 793, "<i>in oral cavity</i>", 11, "#6A5CF0")
txt(10, 727, "# Somatic mutations", 13, "#222", -90)
txt(179, 871, "Leukoplakia <i>with tumour</i>", 11.5, "#222")
txt(179, 884, "<i>in oral cavity</i>", 11.5, "#222")
txt(421, 873, "Tumour", 11.5, "#222")

# ---------------- panel D
ROW_PX = 12.97
SHARED_C, GREEN_C, RED_C = "#E2AC1E", "#2C7F32", "#C0353F"

def ridge(pairs, row, sign, color, xa, ya):
    xv, hv = pairs[0::2], pairs[1::2]
    yv = [row - sign * h / ROW_PX for h in hv]
    add(go.Scatter(x=xv + xv[::-1], y=yv + [row] * len(xv), mode="lines", fill="toself", fillcolor=color, line=dict(width=0),
                   xaxis=xa, yaxis=ya, hoverinfo="skip"))

D_TOP, D_BOT = 899, 1262.7
def d_x(rng, vals, labels):
    return dict(range=rng, anchor="free", position=1 - 1264.8 / H, showline=True, linecolor="#555", linewidth=1.2, ticks="outside", ticklen=4, tickcolor="#555",
                tickmode="array", tickvals=vals, ticktext=labels, showticklabels=True, tickfont=dict(size=11.5, color="#555", family=FONT))
yrange = [27.52, -0.517]
xa, ya = new_axes(75, 312.7, D_TOP, D_BOT, d_x([0.0015, 0.7386], [0.0015, .2, .4, .6, .7386], ["", "0.2", "0.4", "0.6", ""]),
                  dict(range=yrange, showline=True, mirror=True, linecolor="#555", linewidth=1.2, ticks="outside", ticklen=3, tickcolor="#555", showticklabels=True,
                       tickmode="array", tickvals=list(range(28)), ticktext=[str(p) for p in D_ROWS], tickfont=dict(size=11.5, color="#555", family=FONT)))
for i, p in enumerate(D_ROWS):
    if p in SHARED_LEFT: ridge(SHARED_LEFT[p], i, 1, SHARED_C, xa, ya)
    if p in UNIQUE_LEUK: ridge(UNIQUE_LEUK[p], i, -1, GREEN_C, xa, ya)
xa, ya = new_axes(312.7, 635, D_TOP, D_BOT, d_x([0, 1], [0, .2, .4, .6, .8, 1], ["", "0.2", "0.4", "0.6", "0.8", ""]),
                  dict(range=yrange, showline=True, mirror=True, linecolor="#555", linewidth=1.2))
for i, p in enumerate(D_ROWS):
    if p in SHARED_RIGHT: ridge(SHARED_RIGHT[p], i, 1, SHARED_C, xa, ya)
    if p in UNIQUE_TUM: ridge(UNIQUE_TUM[p], i, -1, RED_C, xa, ya)
seg(75, D_TOP, 635, D_TOP, "#555", 1.2)
seg(75, D_BOT, 635, D_BOT, "#555", 1.2)
for k in (1, 2, 3, 4):
    xt = 312.7 + 0.2 * k * 322.3
    seg(xt, D_TOP - 0.5, xt, D_TOP + 2, "#777", 0.8)
txt(32, 1067, "Patients", 13, "#222", -90)
txt(373, 1297, "Variant allele frequency", 13, "#222")
txt(303, 933, "Leukoplakia", 11, "#222", -90)
txt(628, 920, "Tumour", 11, "#222", -90)
rect(647, 1183, 660, 1195, SHARED_C)
rect(647, 1120, 660, 1132, GREEN_C)
rect(647, 1036, 660, 1048, RED_C)
txt(652, 1162, "shared", 11, "#222", -90)
txt(647, 1090, "unique to", 11, "#222", -90)
txt(658, 1090, "leukoplakia", 11, "#222", -90)
txt(647, 1005, "unique to", 11, "#222", -90)
txt(658, 1012, "tumour", 11, "#222", -90)
txt(678, 1079, "Somatic mutations", 11, "#222", -90)

fig.update_layout(width=W, height=H, margin=dict(l=0, r=0, t=0, b=0, autoexpand=False), paper_bgcolor="white", plot_bgcolor="rgba(0,0,0,0)",
                  showlegend=False, barmode="stack", annotations=annots, shapes=shapes, font=dict(family=FONT), **layout)
fig.write_html("out.html", config=dict(displayModeBar=False, staticPlot=True), post_script="document.body.style.margin='0';")
